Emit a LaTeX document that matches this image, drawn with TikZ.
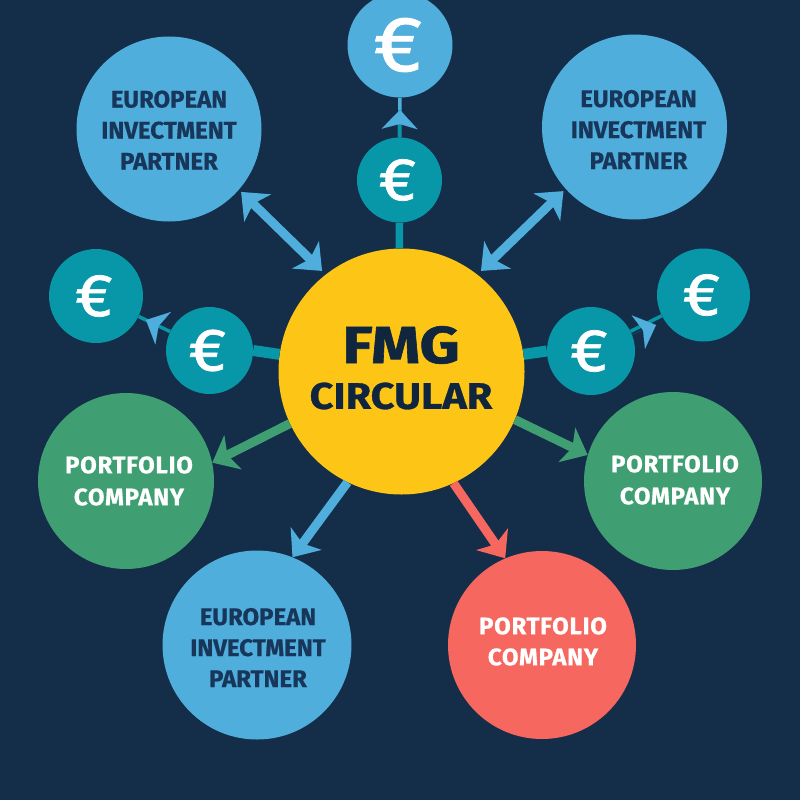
\documentclass[tikz,border=0pt]{standalone}
\usepackage{fontspec}
\usetikzlibrary{arrows.meta}
\setmainfont{Fira Sans}
\newfontfamily\lab[FakeBold=0.6]{Fira Sans}
\newfontfamily\lap[LetterSpace=3,FakeBold=0.6]{Fira Sans}
\newfontfamily\fmgf[FakeStretch=1.2,FakeBold=1.2]{Fira Sans}
\newfontfamily\cirf[FakeStretch=1.12,FakeBold=0.8]{Fira Sans}
\newfontfamily\eurof[FakeBold=1.2,FakeStretch=1.1]{Fira Sans}
\definecolor{bgc}{HTML}{142D48}
\definecolor{bluec}{HTML}{4FAEDC}
\definecolor{tealc}{HTML}{0797A8}
\definecolor{greenc}{HTML}{3F9F73}
\definecolor{redc}{HTML}{F5675F}
\definecolor{yellowc}{HTML}{FDC516}
\definecolor{inkc}{HTML}{17365A}
\definecolor{darkc}{HTML}{10263F}
\tikzset{
  x=1pt,y=-1pt,
  disc/.style={circle,inner sep=0pt,minimum size=#1,text=white},
  bigeuro/.style={font=\eurof\fontsize{78}{78}\selectfont},
  smalleuro/.style={font=\eurof\fontsize{60}{60}\selectfont},
  parttext/.style={font=\lab\bfseries\fontsize{24}{31}\selectfont,align=center,text=inkc},
  portext/.style={font=\lap\bfseries\fontsize{24}{32}\selectfont,align=center,text=white},
  redtext/.style={font=\lap\bfseries\fontsize{24}{31}\selectfont,align=center,text=white},
  bigarrow/.style={line width=9pt},
  head/.style={arrows={-{Stealth[length=23pt,width=38pt,inset=6pt]}}},
  heads/.style={arrows={{Stealth[length=23pt,width=38pt,inset=6pt]}-{Stealth[length=23pt,width=38pt,inset=6pt]}}},
  smallhead/.style={arrows={-{Stealth[length=19pt,width=36pt,inset=5pt,color=bluec,fill=bluec]}}},
}
\begin{document}
\begin{tikzpicture}
\useasboundingbox (0,0) rectangle (800,800);
\clip (0,0) rectangle (800,800);
\fill[bgc] (0,0) rectangle (800,800);
% nodes
\node[disc=246pt,fill=yellowc] (fmg) at (401.5,371.5) {};
\node[font=\fmgf\bfseries\fontsize{52}{52}\selectfont,text=darkc] (fmgt) at (401,345) {FMG};
\node[font=\cirf\bfseries\fontsize{37}{37}\selectfont,text=darkc] (fmgc) at (401,396) {CIRCULAR};
\node[disc=185pt,fill=bluec,label={[parttext,yshift=-1pt]center:{EUROPEAN\\INVECTMENT\\PARTNER}}] (tl) at (169,129) {};
\node[disc=185pt,fill=bluec,label={[parttext,xshift=4pt,yshift=-2.5pt]center:{EUROPEAN\\INVECTMENT\\PARTNER}}] (tr) at (634.5,127) {};
\node[disc=189pt,fill=bluec,label={[parttext,xshift=1pt,yshift=-2.5pt]center:{EUROPEAN\\INVECTMENT\\PARTNER}}] (bl) at (257,645) {};
\node[disc=176pt,fill=greenc,label={[portext,xshift=3pt]center:{PORTFOLIO\\COMPANY}}] (gl) at (126,481) {};
\node[disc=178pt,fill=greenc,label={[portext,xshift=2pt,yshift=1pt]center:{PORTFOLIO\\COMPANY}}] (gr) at (673,481) {};
\node[disc=188pt,fill=redc,label={[redtext,xshift=1pt,yshift=3.5pt]center:{PORTFOLIO\\COMPANY}}] (rd) at (542,645) {};
\node[disc=105pt,fill=bluec,bigeuro] (e1) at (400,45) {\hspace{-4pt}€};
\node[disc=85pt,fill=tealc,smalleuro] (e2) at (399.5,180) {\hspace{-4pt}€};
\node[disc=94pt,fill=tealc,smalleuro] (e3) at (96,296) {\hspace{-4pt}€};
\node[disc=87pt,fill=tealc,smalleuro] (e4) at (209.5,350.5) {\hspace{-4pt}€};
\node[disc=93pt,fill=tealc,smalleuro] (e5) at (703.5,295) {\hspace{-4pt}€};
\node[disc=88pt,fill=tealc,smalleuro] (e6) at (591,351) {\hspace{-4pt}€};
\coordinate (tipa) at (400,110);
\coordinate (tipb) at (146,320);
\coordinate (tipc) at (656,325);
% connectors from the centre
\draw[bluec,bigarrow,heads,shorten <=5pt,shorten >=3pt] (fmg.128) -- (tl.-41);
\draw[bluec,bigarrow,heads,shorten <=5pt,shorten >=3pt] (fmg.52) -- (tr.222);
\draw[greenc,bigarrow,head] (fmg.205) -- (gl.12);
\draw[greenc,bigarrow,head] (fmg.-23) -- (gr.163);
\draw[bluec,bigarrow,head] (fmg.-116) -- (bl.68);
\draw[redc,bigarrow,head] (fmg.-65) -- (rd.113);
\draw[tealc,line width=7.5pt] (fmg.91) -- (e2.-90);
\draw[tealc,line width=11pt] (fmg.172) -- (e4.0);
\draw[tealc,line width=11pt] (fmg.8) -- (e6.180);
% euro to euro
\draw[bluec,line width=3.5pt] (e2) -- (e1);
\draw[tealc,line width=3.5pt] (e2.90) -- (tipa);
\draw[tealc,line width=3.5pt] (e4) -- (e3);
\draw[tealc,line width=3.5pt] (e6) -- (e5);
\draw[tealc,line width=0.1pt,smallhead] (e2.90) -- (tipa);
\draw[tealc,line width=0.1pt,smallhead] (e4) -- (tipb);
\draw[tealc,line width=0.1pt,smallhead] (e6) -- (tipc);
\end{tikzpicture}
\end{document}
